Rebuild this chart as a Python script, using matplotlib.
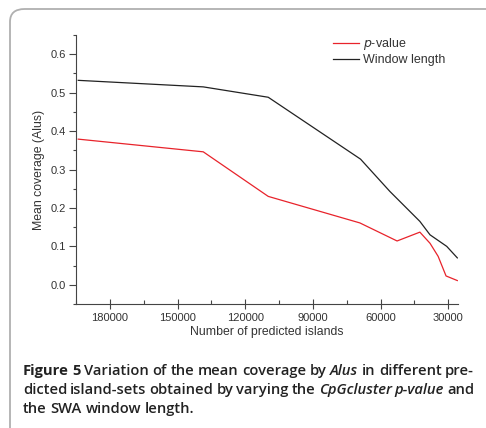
import matplotlib
matplotlib.use("Agg")
import matplotlib.pyplot as plt
from matplotlib.patches import FancyBboxPatch
from matplotlib.ticker import MultipleLocator

# data
win_x = [194000, 138600, 109800, 68900, 55900, 42600, 38100, 30700, 26000]
win_y = [0.532, 0.515, 0.488, 0.327, 0.243, 0.165, 0.130, 0.100, 0.070]
pval_x = [194000, 138600, 109800, 69200, 52700, 42600, 38100, 34500, 31000, 26000]
pval_y = [0.379, 0.346, 0.230, 0.161, 0.114, 0.137, 0.108, 0.074, 0.023, 0.011]

xticks = [180000, 150000, 120000, 90000, 60000, 30000]
yticks = [0.0, 0.1, 0.2, 0.3, 0.4, 0.5, 0.6]

plt.rcParams['font.family'] = ['Liberation Sans', 'DejaVu Sans']
txt = '#333333'

fig = plt.figure(figsize=(4.86, 4.28), dpi=100)

# rounded frame around the figure (right side runs off the image)
frame = FancyBboxPatch((10 / 486, -0.05), 1.2, (428 - 9) / 428 + 0.05,
                       boxstyle="round,pad=0,rounding_size=0.03",
                       transform=fig.transFigure, fill=False,
                       edgecolor='#b0b0b0', linewidth=1.3)
fig.patches.append(frame)

ax = fig.add_axes([76 / 486, 1 - 304 / 428, (458 - 76) / 486, (304 - 35) / 428])
ax.plot(pval_x, pval_y, color='#e8232b', lw=0.9, label='$p$-value')
ax.plot(win_x, win_y, color='#222222', lw=0.9, label='Window length')

ax.set_xlim(195000, 25700)
ax.set_ylim(-0.05, 0.65)
ax.set_xticks(xticks)
ax.set_xticklabels([str(v) for v in xticks])
ax.set_yticks(yticks)
ax.set_yticklabels(['%.1f' % v for v in yticks])
ax.xaxis.set_minor_locator(MultipleLocator(15000))
ax.yaxis.set_minor_locator(MultipleLocator(0.05))
for s in ['top', 'right']:
    ax.spines[s].set_visible(False)
for s in ['left', 'bottom']:
    ax.spines[s].set_color('#444444')
    ax.spines[s].set_linewidth(0.8)
ax.tick_params(axis='x', which='major', direction='inout', length=7, width=0.8,
               labelsize=8, colors='#444444', labelcolor=txt, pad=3)
ax.tick_params(axis='x', which='minor', direction='in', length=3, width=0.8, colors='#444444')
ax.tick_params(axis='y', which='major', direction='out', length=5, width=0.8,
               labelsize=8, colors='#444444', labelcolor=txt, pad=2)
ax.tick_params(axis='y', which='minor', direction='out', length=2.5, width=0.8, colors='#444444')

ax.set_xlabel('Number of predicted islands', fontsize=8.8, color=txt, labelpad=2)
ax.set_ylabel('Mean coverage (Alus)', fontsize=8.8, color=txt, labelpad=4)

ax.legend(loc='upper left', bbox_to_anchor=(333 / 486, 1 - 36 / 428),
          bbox_transform=fig.transFigure, frameon=False, fontsize=9,
          handlelength=2.1, handletextpad=0.3, labelspacing=0.15,
          borderpad=0, borderaxespad=0, labelcolor=txt)

# caption: words with their weight/style, first two lines justified
B, N = 'bold', 'semibold'
cap_lines = [
    [("Figure", B, 'normal'), ("5", B, 'normal'), ("Variation", N, 'normal'),
     ("of", N, 'normal'), ("the", N, 'normal'), ("mean", N, 'normal'),
     ("coverage", N, 'normal'), ("by", N, 'normal'), ("Alus", N, 'italic'),
     ("in", N, 'normal'), ("different", N, 'normal'), ("pre-", N, 'normal')],
    [("dicted", N, 'normal'), ("island-sets", N, 'normal'), ("obtained", N, 'normal'),
     ("by", N, 'normal'), ("varying", N, 'normal'), ("the", N, 'normal'),
     ("CpGcluster", N, 'italic'), ("p-value", N, 'italic'), ("and", N, 'normal')],
    [("the", N, 'normal'), ("SWA", N, 'normal'), ("window", N, 'normal'),
     ("length.", N, 'normal')],
]
cap_y = [371, 390, 409]
cap_left, cap_right = 23, 474
cap_font = ['Open Sans', 'DejaVu Sans']
cap_size = 10.6
fig.canvas.draw()
r = fig.canvas.get_renderer()
for i, (words, yy) in enumerate(zip(cap_lines, cap_y)):
    items = []
    for w, wt, st in words:
        t = fig.text(0, 1 - yy / 428, w, fontsize=cap_size, family=cap_font,
                     weight=wt, style=st, color='#222222', va='center', ha='left')
        items.append((t, t.get_window_extent(renderer=r).width))
    sp = fig.text(0, 0, ' ', fontsize=cap_size, family=cap_font, weight=N)
    space = sp.get_window_extent(renderer=r).width
    sp.remove()
    total = sum(wd for _, wd in items)
    if i < 2:
        gap = (cap_right - cap_left - total) / (len(items) - 1)
    else:
        gap = space
    x = cap_left
    for t, wd in items:
        t.set_x(x / 486)
        x += wd + gap

fig.savefig('out.png', dpi=100)
